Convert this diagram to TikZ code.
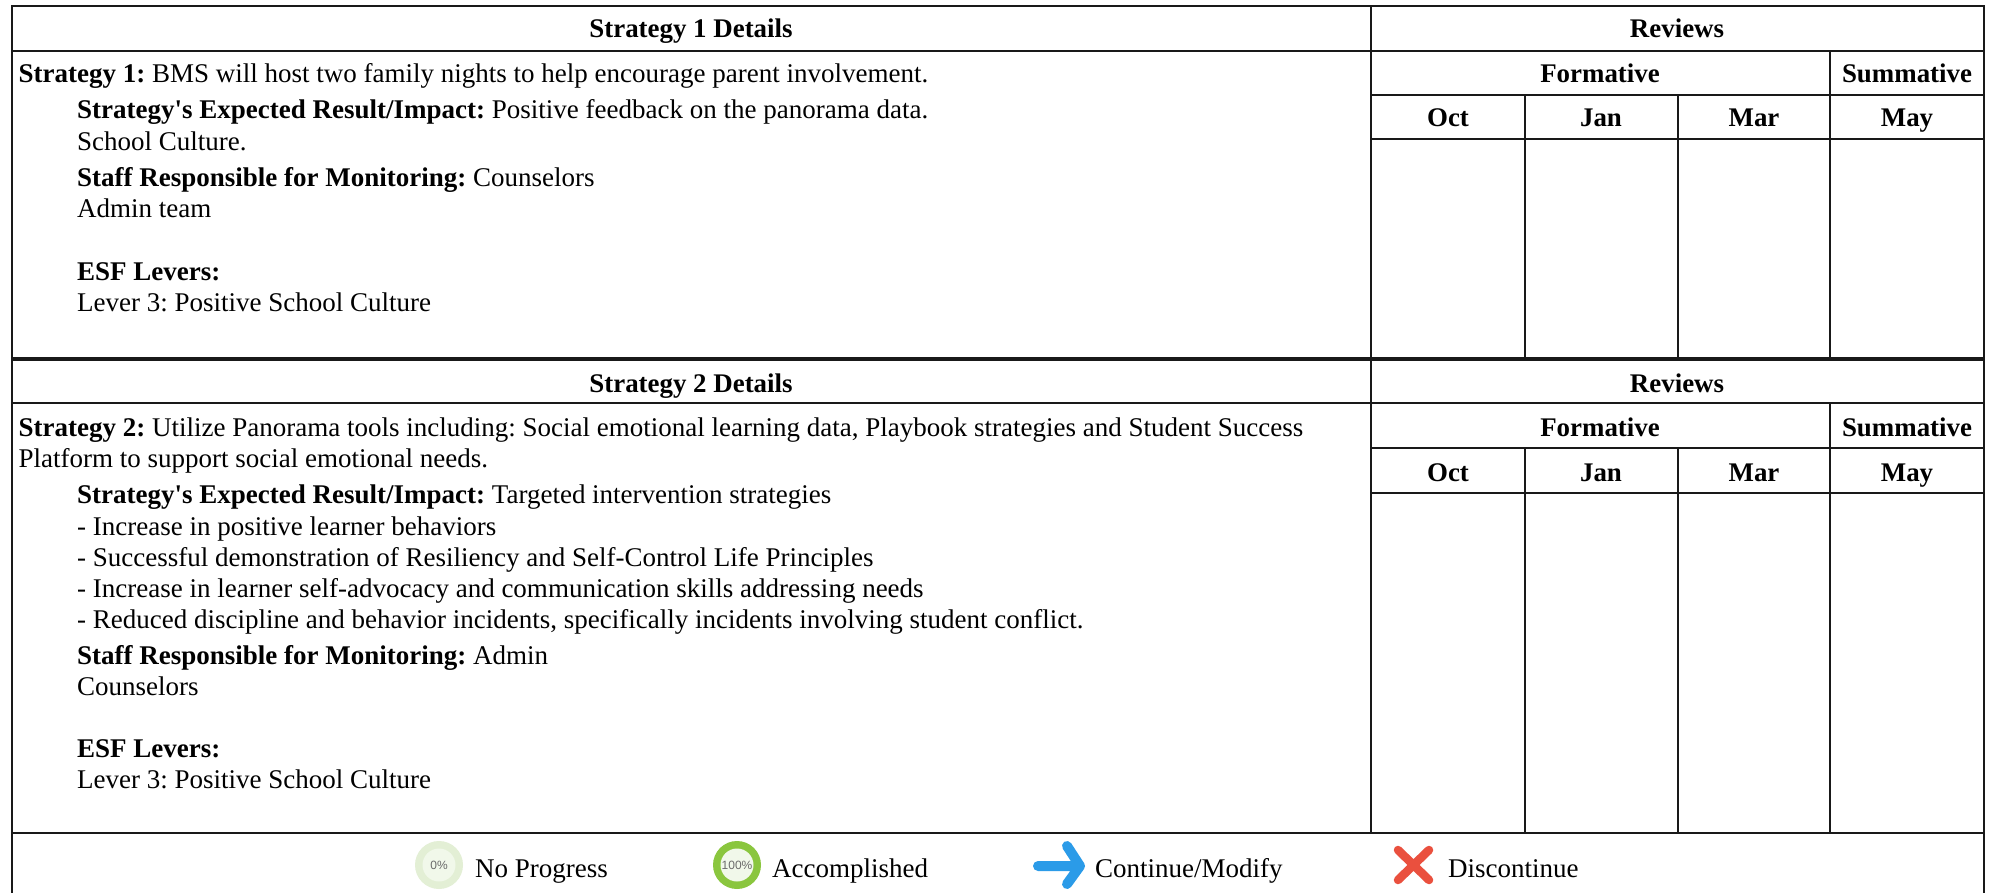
\documentclass[tikz,border=0pt]{standalone}
\usepackage{fontspec}
\setmainfont{Liberation Serif}[Ligatures=TeXOff]
\setsansfont{Liberation Sans}
\definecolor{ringpale}{RGB}{227,239,213}
\definecolor{ringfull}{RGB}{138,198,62}
\definecolor{ringin}{RGB}{241,248,234}
\definecolor{arrowblue}{RGB}{43,155,232}
\definecolor{crossred}{RGB}{234,80,62}
\frenchspacing
\begin{document}
\begin{tikzpicture}[x=1pt,y=-1pt,
  rule/.style={draw=black!90,line width=2.4pt},
  heavy/.style={draw=black!90,line width=4pt},
  txt/.style={anchor=base west,inner sep=0pt,font=\fontsize{27}{32}\selectfont},
  head/.style={anchor=base,inner sep=0pt,font=\fontsize{26.9}{32}\selectfont\bfseries},
  outer/.style={circle,minimum size=48pt,inner sep=0pt},
  inner/.style={circle,fill=ringin,minimum size=33pt,inner sep=0pt},
  pct/.style={anchor=center,inner sep=0pt,font=\sffamily\fontsize{12}{14}\selectfont,text=black!58}]
\useasboundingbox (0,0) rectangle (1993,893);
\fill[white] (0,0) rectangle (1993,893);
% frame and rules
\draw[rule] (12,893) -- (12,6) -- (1984,6) -- (1984,893);
\draw[rule] (12,51) -- (1984,51);
\draw[rule] (1371,95) -- (1984,95);
\draw[rule] (1371,139) -- (1984,139);
\draw[heavy] (12,359) -- (1984,359);
\draw[rule] (12,403) -- (1984,403);
\draw[rule] (1371,448) -- (1984,448);
\draw[rule] (1371,493) -- (1984,493);
\draw[rule] (12,833) -- (1984,833);
\draw[rule] (1371,6) -- (1371,833);
\draw[rule] (1830,51) -- (1830,359);
\draw[rule] (1830,403) -- (1830,833);
\foreach \cx in {1525,1678}{
  \draw[rule] (\cx,95) -- (\cx,359);
  \draw[rule] (\cx,448) -- (\cx,833);
}
% block 1 headers
\node[head] (h1) at (691,38) {Strategy 1 Details};
\node[head] (r1) at (1677,38) {Reviews};
\node[head] (f1) at (1600,83) {Formative};
\node[head] (s1) at (1907,83) {Summative};
\node[head] (o1) at (1448,127) {Oct};
\node[head] (j1) at (1601,127) {Jan};
\node[head] (m1) at (1754,127) {Mar};
\node[head] (y1) at (1907,127) {May};
% block 1 text
\node[txt] (a1) at (18.5,83) {\textbf{Strategy 1:} BMS will host two family nights to help encourage parent involvement.};
\node[txt] (a2) at (77,119) {\textbf{Strategy's Expected Result/Impact:} Positive feedback on the panorama data.};
\node[txt] (a3) at (77,151) {School Culture.};
\node[txt] (a4) at (77,187) {\textbf{Staff Responsible for Monitoring:} Counselors};
\node[txt] (a5) at (77,218) {Admin team};
\node[txt] (a6) at (77,280) {\textbf{ESF Levers:}};
\node[txt] (a7) at (77,311) {Lever 3: Positive School Culture};
% block 2 headers
\node[head] (h2) at (691,392) {Strategy 2 Details};
\node[head] (r2) at (1677,392) {Reviews};
\node[head] (f2) at (1600,436) {Formative};
\node[head] (s2) at (1907,436) {Summative};
\node[head] (o2) at (1448,481) {Oct};
\node[head] (j2) at (1601,481) {Jan};
\node[head] (m2) at (1754,481) {Mar};
\node[head] (y2) at (1907,481) {May};
% block 2 text
\node[txt] (b1) at (18.5,436) {\textbf{Strategy 2:} Utilize Panorama tools including: Social emotional learning data, Playbook strategies and Student Success};
\node[txt] (b2) at (18.5,467) {Platform to support social emotional needs.};
\node[txt] (b3) at (77,503) {\textbf{Strategy's Expected Result/Impact:} Targeted intervention strategies};
\node[txt] (b4) at (77,535) {- Increase in positive learner behaviors};
\node[txt] (b5) at (77,566) {- Successful demonstration of Resiliency and Self-Control Life Principles};
\node[txt] (b6) at (77,597) {- Increase in learner self-advocacy and communication skills addressing needs};
\node[txt] (b7) at (77,628) {- Reduced discipline and behavior incidents, specifically incidents involving student conflict.};
\node[txt] (b8) at (77,664) {\textbf{Staff Responsible for Monitoring:} Admin};
\node[txt] (b9) at (77,695) {Counselors};
\node[txt] (b10) at (77,757) {\textbf{ESF Levers:}};
\node[txt] (b11) at (77,788) {Lever 3: Positive School Culture};
% legend
\node[outer,fill=ringpale] (c0) at (439,865) {};
\node[inner] (c0i) at (c0) {};
\node[pct] (c0t) at (c0) {0\%};
\node[txt] (l0) at (475,877) {No Progress};
\node[outer,fill=ringfull] (c1) at (737,865) {};
\node[inner] (c1i) at (c1) {};
\node[pct] (c1t) at (c1) {100\%};
\node[txt] (l1) at (772,877) {Accomplished};
\draw[line width=10pt,line cap=round,line join=round,color=arrowblue] (1038,866) -- (1079,866) (1067,846) -- (1080,866) -- (1067,884);
\node[txt] (l2) at (1095,877) {Continue/Modify};
\draw[line width=8.5pt,line cap=round,color=crossred] (1398,850) -- (1429,880) (1429,850) -- (1398,880);
\node[txt] (l3) at (1448,877) {Discontinue};
\end{tikzpicture}
\end{document}
